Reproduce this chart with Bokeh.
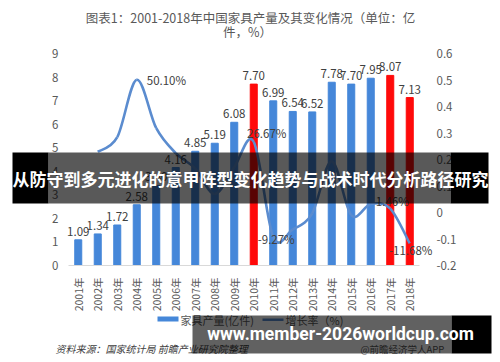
import math
from bokeh.plotting import figure
from bokeh.models import (Range1d, LinearAxis, FixedTicker, ColumnDataSource, LabelSet,
                          Label, BoxAnnotation, CustomJSTickFormatter)
from bokeh.core.properties import value
from bokeh.embed import file_html
from bokeh.resources import INLINE

# ---------------- data ----------------
years = list(range(2001, 2019))
output = [1.09, 1.34, 1.72, 2.58, 3.40, 4.16, 4.85, 5.19, 6.08, 7.70,
          6.99, 6.54, 6.52, 7.78, 7.70, 7.95, 8.07, 7.13]
highlight_years = [2010, 2017, 2018]

growth_years = list(range(2002, 2019))
growth = [0.229, 0.284, 0.501, 0.318, 0.224, 0.166, 0.070, 0.171, 0.2667,
          -0.0927, -0.064, -0.003, 0.193, -0.010, 0.032, 0.0146, -0.1168]

growth_label_years = [2004, 2010, 2011, 2017, 2018]
growth_label_values = [0.501, 0.2667, -0.0927, 0.0146, -0.1168]
growth_label_text = ["50.10%", "26.67%", "-9.27%", "1.46%", "-11.68%"]

left_ticks = [0, 1, 2, 3, 4, 5, 6, 7, 8, 9]
right_ticks = [-0.2, -0.1, 0, 0.1, 0.2, 0.3, 0.4, 0.5, 0.6]

title_line1 = "图表1：2001-2018年中国家具产量及其变化情况（单位：亿"
title_line2 = "件，%）"
legend_bar = "家具产量(亿件)"
legend_line = "增长率（%)"
source_text = "资料来源：国家统计局 前瞻产业研究院整理"
app_text = "@前瞻经济学人APP"
banner_text = "从防守到多元进化的意甲阵型变化趋势与战术时代分析路径研究"
site_text = "www.member-2026worldcup.com"

# ---------------- layout / styles ----------------
W, H = 500, 362
PLOT_L, PLOT_T, PLOT_B = 68, 53, 265      # plot area in pixels
STEP = 19.5                                 # px per year
X0 = min(years) - 0.5
X1 = max(years) + 0.5
L_LO, L_HI = min(left_ticks), max(left_ticks)
R_LO, R_HI = min(right_ticks), max(right_ticks)
ppu_l = (PLOT_B - PLOT_T) / (L_HI - L_LO)
ppu_r = (PLOT_B - PLOT_T) / (R_HI - R_LO)

BLUE = "#4587d9"
RED = "#ff0a0a"
LINE = "#5b8ccf"
TXT = "#595959"
FONT = "Noto Sans CJK SC"

p = figure(width=W, height=H,
           x_range=Range1d(X0 - PLOT_L / STEP, X0 + (W - PLOT_L) / STEP),
           y_range=Range1d(L_LO - (H - PLOT_B) / ppu_l, L_HI + PLOT_T / ppu_l),
           output_backend="svg", toolbar_location=None,
           min_border=0, min_border_left=0, min_border_right=0,
           min_border_top=0, min_border_bottom=0)
p.extra_y_ranges = {"pct": Range1d(R_LO - (H - PLOT_B) / ppu_r, R_HI + PLOT_T / ppu_r)}
p.outline_line_color = None
p.xgrid.grid_line_color = None
p.ygrid.grid_line_color = None
p.background_fill_color = "white"
p.border_fill_color = "white"

# x axis
xa = p.xaxis[0]
xa.fixed_location = L_LO
xa.bounds = (X0, X1)
xa.ticker = FixedTicker(ticks=years)
xa.major_label_overrides = {y: f"{y}年" for y in years}
xa.major_label_orientation = math.pi / 2
xa.major_tick_line_color = None
xa.minor_tick_line_color = None
xa.axis_line_color = "#d9d9d9"
xa.major_label_text_font = FONT
xa.major_label_text_font_size = "10.5px"
xa.major_label_text_color = TXT
xa.major_label_standoff = 6

# left axis
ya = p.yaxis[0]
ya.fixed_location = X0
ya.ticker = FixedTicker(ticks=left_ticks)
ya.axis_line_color = None
ya.major_tick_line_color = None
ya.minor_tick_line_color = None
ya.major_label_text_font = FONT
ya.major_label_text_font_size = "11.5px"
ya.major_label_text_color = TXT
ya.major_label_standoff = 4

# right axis
ra = LinearAxis(y_range_name="pct", ticker=FixedTicker(ticks=right_ticks),
                fixed_location=X1,
                formatter=CustomJSTickFormatter(code="""
                    var v = Math.round(tick * 10) / 10;
                    return v === 0 ? '0' : v.toFixed(1);"""))
ra.axis_line_color = None
ra.major_tick_line_color = None
ra.minor_tick_line_color = None
ra.major_label_text_font = FONT
ra.major_label_text_font_size = "11.5px"
ra.major_label_text_color = TXT
ra.major_label_standoff = 11
p.add_layout(ra, "right")

# bars
colors = [RED if y in highlight_years else BLUE for y in years]
bar_src = ColumnDataSource(dict(x=years, top=output, color=colors,
                                label=[f"{v:.2f}" for v in output]))
p.vbar(x="x", top="top", bottom=L_LO, width=0.36, color="color", source=bar_src)
p.add_layout(LabelSet(x="x", y="top", text="label", source=bar_src, y_offset=4,
                      text_align="center", text_baseline="bottom",
                      text_font=value(FONT), text_font_size="11.5px", text_color="#404040"))

# smooth growth line (bezier segments through the data points)
n = len(growth)
seg = dict(x0=[], y0=[], x1=[], y1=[], cx0=[], cy0=[], cx1=[], cy1=[])
for i in range(n - 1):
    xm, ym = (growth_years[i - 1], growth[i - 1]) if i > 0 else (growth_years[i], growth[i])
    xp, yp = (growth_years[i + 2], growth[i + 2]) if i + 2 < n else (growth_years[i + 1], growth[i + 1])
    seg["x0"].append(growth_years[i]); seg["y0"].append(growth[i])
    seg["x1"].append(growth_years[i + 1]); seg["y1"].append(growth[i + 1])
    seg["cx0"].append(growth_years[i] + (growth_years[i + 1] - xm) / 6)
    seg["cy0"].append(growth[i] + (growth[i + 1] - ym) / 6)
    seg["cx1"].append(growth_years[i + 1] - (xp - growth_years[i]) / 6)
    seg["cy1"].append(growth[i + 1] - (yp - growth[i]) / 6)
p.bezier(x0="x0", y0="y0", x1="x1", y1="y1", cx0="cx0", cy0="cy0", cx1="cx1", cy1="cy1",
         source=ColumnDataSource(seg), y_range_name="pct", line_color=LINE, line_width=2.6)

# growth labels
gl_dx = [10, 13, 3, 2, 1]
gl_dy = [0, 9, -2, 8, -7]
gl_align = ["left", "center", "center", "center", "center"]
gsrc = ColumnDataSource(dict(x=growth_label_years, y=growth_label_values, text=growth_label_text,
                             dx=gl_dx, dy=gl_dy, align=gl_align))
p.add_layout(LabelSet(x="x", y="y", text="text", source=gsrc, y_range_name="pct",
                      x_offset="dx", y_offset="dy", text_align="align", text_baseline="middle",
                      text_font=value(FONT), text_font_size="11.5px", text_color="#404040"))


def box(l, t, r, b, color, alpha=1.0):
    p.add_layout(BoxAnnotation(left=l, right=r, top=t, bottom=b,
                               left_units="canvas", right_units="canvas",
                               top_units="canvas", bottom_units="canvas",
                               fill_color=color, fill_alpha=alpha, line_color=None,
                               level="overlay"))


def text(x, y, s, size, color, align="left", font=FONT, style="normal"):
    p.add_layout(Label(x=x, y=y, x_units="canvas", y_units="canvas", text=s,
                       text_font=font, text_font_size=size, text_color=color,
                       text_align=align, text_baseline="middle", text_font_style=style,
                       level="overlay"))


# title
text(250, 17, title_line1, "12.5px", TXT, "center")
text(247, 31, title_line2, "12.5px", TXT, "center")

# legend
box(157, 316, 178, 321, BLUE)
text(180, 319, legend_bar, "11px", TXT)
box(262, 318, 283, 320.5, LINE)
text(285, 319, legend_line, "11px", TXT)

# footer
text(55, 348, source_text, "10px", "#404040", style="italic")
text(360, 348, app_text, "9.5px", "#595959")

# overlay banner
box(12, 152, 48, 203, "black", 1.0)
box(48, 152, 450, 203, "black", 0.65)
box(450, 152, 488, 203, "black", 1.0)
text(250, 178, banner_text, "17px", "white", "center", style="bold")

# site watermark band
box(192, 315, 451, 353, "black", 0.62)
box(451, 315, 491, 353, "black", 1.0)
text(340, 333, site_text, "17.5px", "white", "center", font="Roboto", style="bold")

open("out.html", "w").write(file_html(p, INLINE))
